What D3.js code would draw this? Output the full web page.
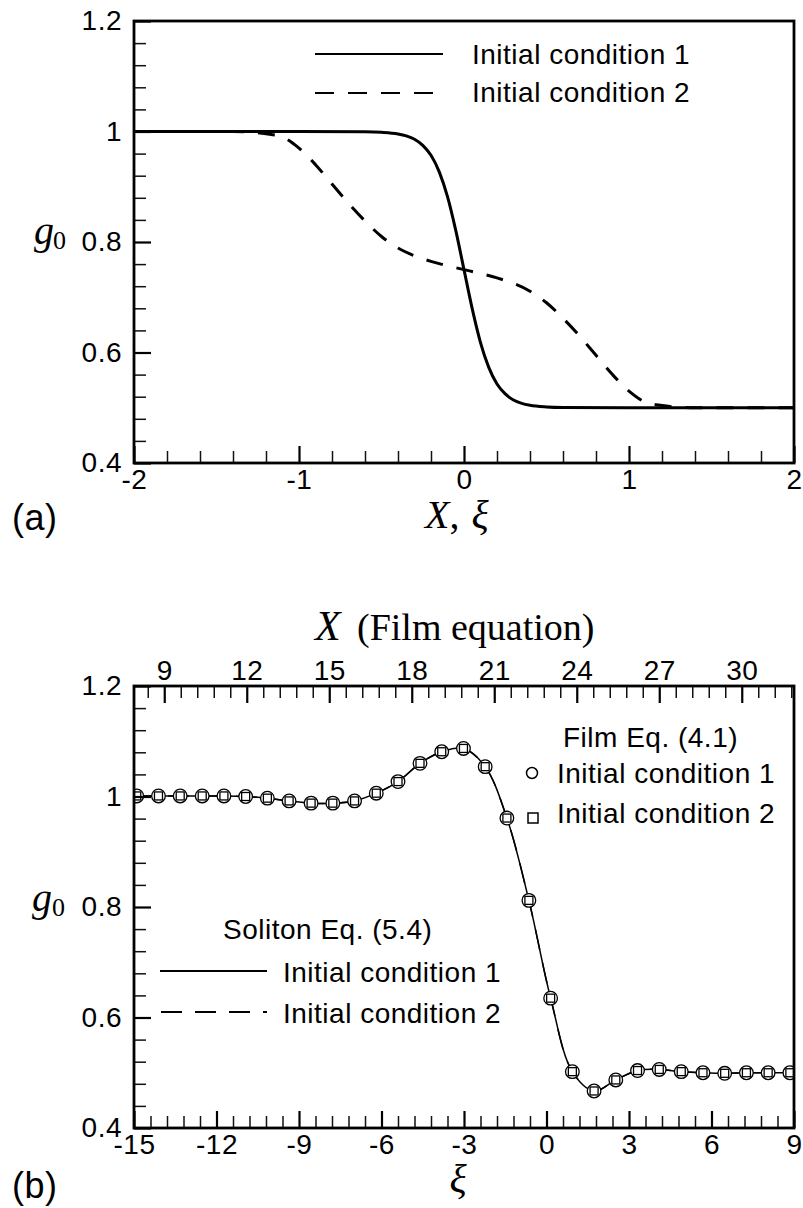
<!DOCTYPE html>
<html>
<head>
<meta charset="utf-8">
<script src="https://cdn.jsdelivr.net/npm/d3@7"></script>
<style>
  html, body { margin: 0; padding: 0; background: #fff; }
  svg { display: block; }
</style>
</head>
<body>
<svg id="fig" width="803" height="1208"></svg>
<script>
// ---------- Panel (a): initial conditions g0(X) ----------
const ic1X = [-2, -1, -0.6, -0.5, -0.4, -0.35, -0.3, -0.25, -0.2, -0.15, -0.1, -0.05, 0,
              0.05, 0.1, 0.15, 0.2, 0.25, 0.3, 0.35, 0.4, 0.5, 0.6, 1, 2];
const ic1G = [1, 1, 0.9995, 0.9985, 0.9955, 0.992, 0.986, 0.975, 0.957, 0.927, 0.882, 0.821, 0.75,
              0.679, 0.618, 0.573, 0.543, 0.525, 0.514, 0.508, 0.5045, 0.5015, 0.5005, 0.5, 0.5];

const ic2X = [-2, -1.4, -1.3, -1.2, -1.1, -1.0, -0.9, -0.8, -0.7, -0.6, -0.5, -0.4, -0.3, -0.2, -0.1, 0,
              0.1, 0.2, 0.3, 0.4, 0.5, 0.6, 0.7, 0.8, 0.9, 1.0, 1.1, 1.2, 1.3, 1.4, 2];
const ic2G = [1, 1, 0.999, 0.996, 0.99, 0.97, 0.94, 0.905, 0.87, 0.838, 0.81, 0.789, 0.775, 0.765, 0.757, 0.75,
              0.743, 0.735, 0.725, 0.711, 0.69, 0.662, 0.63, 0.595, 0.56, 0.53, 0.51, 0.504, 0.501, 0.5, 0.5];

const aXTicks = [-2, -1, 0, 1, 2];
const aXTickLabels = ["-2", "-1", "0", "1", "2"];
const gTicks = [0.4, 0.6, 0.8, 1.0, 1.2];
const gTickLabels = ["0.4", "0.6", "0.8", "1", "1.2"];
const aLegend = ["Initial condition 1", "Initial condition 2"];

// ---------- Panel (b): long-time profiles ----------
// film solution samples (markers), same xi for both initial conditions
const filmXi = [-14.90, -14.11, -13.32, -12.52, -11.73, -10.94, -10.15, -9.36, -8.56, -7.77,
                -6.98, -6.19, -5.40, -4.60, -3.81, -3.02, -2.23, -1.44, -0.64, 0.15,
                0.94, 1.73, 2.52, 3.31, 4.10, 4.90, 5.69, 6.48, 7.27, 8.06, 8.85];
const filmG1 = [1.001, 1.001, 1.001, 1.001, 1.001, 1.000, 0.997, 0.992, 0.988, 0.988,
                0.992, 1.006, 1.027, 1.060, 1.081, 1.087, 1.054, 0.961, 0.812, 0.635,
                0.502, 0.467, 0.487, 0.504, 0.506, 0.502, 0.500, 0.499, 0.500, 0.500, 0.500];
const filmG2 = [1.001, 1.001, 1.001, 1.001, 1.001, 1.000, 0.997, 0.992, 0.988, 0.988,
                0.992, 1.006, 1.027, 1.060, 1.081, 1.087, 1.054, 0.961, 0.812, 0.635,
                0.502, 0.467, 0.487, 0.504, 0.506, 0.502, 0.500, 0.499, 0.500, 0.500, 0.500];

// soliton equation solution (lines)
const solXi = [-15, -14.11, -13.32, -12.52, -11.73, -10.94, -10.15, -9.36, -8.56, -7.77,
               -6.98, -6.19, -5.40, -4.60, -3.81, -3.02, -2.23, -1.44, -0.64, 0.15,
               0.94, 1.73, 2.52, 3.31, 4.10, 4.90, 5.69, 6.48, 7.27, 8.06, 9];
const solG1 = [1.001, 1.001, 1.001, 1.001, 1.001, 1.000, 0.997, 0.992, 0.988, 0.988,
               0.992, 1.006, 1.027, 1.060, 1.081, 1.087, 1.054, 0.961, 0.812, 0.635,
               0.502, 0.467, 0.487, 0.504, 0.506, 0.502, 0.500, 0.499, 0.500, 0.500, 0.500];
const solG2 = [1.001, 1.001, 1.001, 1.001, 1.001, 1.000, 0.997, 0.992, 0.988, 0.988,
               0.992, 1.006, 1.027, 1.060, 1.081, 1.087, 1.054, 0.961, 0.812, 0.635,
               0.502, 0.467, 0.487, 0.504, 0.506, 0.502, 0.500, 0.499, 0.500, 0.500, 0.500];

const bXiTicks = [-15, -12, -9, -6, -3, 0, 3, 6, 9];
const bXiTickLabels = ["-15", "-12", "-9", "-6", "-3", "0", "3", "6", "9"];
const filmOffset = 22.9;            // X = xi + filmOffset
const bXTicks = [9, 12, 15, 18, 21, 24, 27, 30];
const bXTickLabels = ["9", "12", "15", "18", "21", "24", "27", "30"];

// ---------- layout ----------
const SANS = '"Liberation Sans", Arial, Helvetica, sans-serif';
const SERIF = '"Liberation Serif", "Times New Roman", Times, serif';
const L = 134, W = 660, H = 442;
const topA = 21, topB = 686;

const svg = d3.select("#fig");

const xA = d3.scaleLinear().domain([-2, 2]).range([L, L + W]);
const yA = d3.scaleLinear().domain([0.4, 1.2]).range([topA + H, topA]);
const xB = d3.scaleLinear().domain([-15, 9]).range([L, L + W]);
const xF = d3.scaleLinear().domain([-15 + filmOffset, 9 + filmOffset]).range([L, L + W]);
const yB = d3.scaleLinear().domain([0.4, 1.2]).range([topB + H, topB]);

function near(v, list) { return list.some(m => Math.abs(m - v) < 1e-6); }
function minorTicks(lo, hi, step, majors) {
  return d3.range(Math.round((hi - lo) / step) + 1)
    .map(i => +(lo + i * step).toFixed(6))
    .filter(v => !near(v, majors));
}

function drawAxis(axisFn, scale, majors, labels, minors, transform, pad) {
  const gMin = svg.append("g").attr("transform", transform)
    .call(axisFn(scale).tickValues(minors).tickSize(-12).tickFormat(""));
  gMin.select(".domain").remove();
  gMin.selectAll("line").attr("stroke", "#111").attr("stroke-width", 1.5);

  const gMaj = svg.append("g").attr("transform", transform)
    .call(axisFn(scale).tickValues(majors).tickSize(-17).tickPadding(pad)
      .tickFormat((d, i) => labels[i]));
  gMaj.select(".domain").remove();
  gMaj.selectAll("line").attr("stroke", "#000").attr("stroke-width", 2.2);
  gMaj.selectAll("text")
    .attr("fill", "#000")
    .attr("font-size", 28)
    .attr("letter-spacing", "0.5px")
    .style("font-family", SANS);
}

function frame(top) {
  svg.append("rect")
    .attr("x", L).attr("y", top).attr("width", W).attr("height", H)
    .attr("fill", "none").attr("stroke", "#000").attr("stroke-width", 2.8);
}

function sansText(x, y, str, size, anchor) {
  return svg.append("text")
    .attr("x", x).attr("y", y)
    .attr("text-anchor", anchor || "start")
    .attr("font-size", size)
    .attr("letter-spacing", size >= 28 ? "0.5px" : null)
    .style("font-family", SANS)
    .attr("fill", "#000")
    .text(str);
}

// clip paths for curves
const defs = svg.append("defs");
defs.append("clipPath").attr("id", "clipA")
  .append("rect").attr("x", L).attr("y", topA).attr("width", W).attr("height", H);
defs.append("clipPath").attr("id", "clipB")
  .append("rect").attr("x", L).attr("y", topB).attr("width", W).attr("height", H);

// ================= Panel (a) =================
const lineA = d3.line().x(d => xA(d[0])).y(d => yA(d[1])).curve(d3.curveMonotoneX);
const gA = svg.append("g").attr("clip-path", "url(#clipA)");
gA.append("path")
  .attr("d", lineA(ic2X.map((x, i) => [x, ic2G[i]])))
  .attr("fill", "none").attr("stroke", "#000").attr("stroke-width", 3)
  .attr("stroke-dasharray", "17,14");
gA.append("path")
  .attr("d", lineA(ic1X.map((x, i) => [x, ic1G[i]])))
  .attr("fill", "none").attr("stroke", "#000").attr("stroke-width", 3);

drawAxis(d3.axisBottom, xA, aXTicks, aXTickLabels,
  minorTicks(-2, 2, 0.2, aXTicks), `translate(0,${topA + H})`, 6);
drawAxis(d3.axisLeft, yA, gTicks, gTickLabels,
  minorTicks(0.4, 1.2, 0.04, gTicks), `translate(${L},0)`, 12);
frame(topA);

// legend (a)
svg.append("line").attr("x1", 315).attr("x2", 443).attr("y1", 54).attr("y2", 54)
  .attr("stroke", "#000").attr("stroke-width", 2);
svg.append("line").attr("x1", 315).attr("x2", 443).attr("y1", 93).attr("y2", 93)
  .attr("stroke", "#000").attr("stroke-width", 2).attr("stroke-dasharray", "19,14");
sansText(472, 64, aLegend[0], 28);
sansText(472, 102, aLegend[1], 28);

// axis titles (a)
const tA = svg.append("text").attr("x", 425).attr("y", 528)
  .attr("font-size", 40).style("font-family", SERIF).attr("fill", "#000");
tA.append("tspan").attr("font-style", "italic").text("X");
tA.append("tspan").text(",");
tA.append("tspan").attr("font-style", "italic").attr("dx", 12).text("ξ");

svg.append("text").attr("x", 34).attr("y", 244).attr("font-size", 40)
  .attr("font-style", "italic").style("font-family", SERIF).text("g");
svg.append("text").attr("x", 53).attr("y", 249).attr("font-size", 26)
  .style("font-family", SERIF).text("0");

sansText(12, 530, "(a)", 36);

// ================= Panel (b) =================
const lineB = d3.line().x(d => xB(d[0])).y(d => yB(d[1])).curve(d3.curveCatmullRom.alpha(0.5));
const gB = svg.append("g").attr("clip-path", "url(#clipB)");
gB.append("path")
  .attr("d", lineB(solXi.map((x, i) => [x, solG2[i]])))
  .attr("fill", "none").attr("stroke", "#000").attr("stroke-width", 1.5)
  .attr("stroke-dasharray", "21,13");
gB.append("path")
  .attr("d", lineB(solXi.map((x, i) => [x, solG1[i]])))
  .attr("fill", "none").attr("stroke", "#000").attr("stroke-width", 1.5);

gB.selectAll("circle.film1")
  .data(filmXi.map((x, i) => [x, filmG1[i]]))
  .join("circle").attr("class", "film1")
  .attr("cx", d => xB(d[0])).attr("cy", d => yB(d[1])).attr("r", 6.8)
  .attr("fill", "#fff").attr("stroke", "#000").attr("stroke-width", 1.3);
const sq = 8;
gB.selectAll("rect.film2")
  .data(filmXi.map((x, i) => [x, filmG2[i]]))
  .join("rect").attr("class", "film2")
  .attr("x", d => xB(d[0]) - sq / 2).attr("y", d => yB(d[1]) - sq / 2)
  .attr("width", sq).attr("height", sq)
  .attr("fill", "#fff").attr("stroke", "#000").attr("stroke-width", 1.3);

drawAxis(d3.axisBottom, xB, bXiTicks, bXiTickLabels,
  minorTicks(-15, 9, 0.6, bXiTicks), `translate(0,${topB + H})`, 6);
drawAxis(d3.axisTop, xF, bXTicks, bXTickLabels,
  minorTicks(8.4, 31.8, 0.6, bXTicks), `translate(0,${topB})`, 6);
drawAxis(d3.axisLeft, yB, gTicks, gTickLabels,
  minorTicks(0.4, 1.2, 0.04, gTicks), `translate(${L},0)`, 12);
frame(topB);

// legends (b)
sansText(563, 747, "Film Eq. (4.1)", 28);
svg.append("circle").attr("cx", 532).attr("cy", 773).attr("r", 5.5)
  .attr("fill", "#fff").attr("stroke", "#000").attr("stroke-width", 1.5);
sansText(557, 783, aLegend[0], 28);
svg.append("rect").attr("x", 528).attr("y", 813).attr("width", 10).attr("height", 10)
  .attr("fill", "#fff").attr("stroke", "#000").attr("stroke-width", 1.5);
sansText(557, 823, aLegend[1], 28);

sansText(223, 939, "Soliton Eq. (5.4)", 28);
svg.append("line").attr("x1", 160).attr("x2", 267).attr("y1", 971).attr("y2", 971)
  .attr("stroke", "#000").attr("stroke-width", 2);
sansText(283, 982, aLegend[0], 28);
svg.append("line").attr("x1", 161).attr("x2", 267).attr("y1", 1012).attr("y2", 1012)
  .attr("stroke", "#000").attr("stroke-width", 2).attr("stroke-dasharray", "21,13");
sansText(283, 1023, aLegend[1], 28);

// axis titles (b)
const tF = svg.append("g").style("font-family", SERIF).attr("fill", "#000");
tF.append("text").attr("x", 315).attr("y", 640).attr("font-size", 42)
  .attr("font-style", "italic").text("X");
tF.append("text").attr("x", 357).attr("y", 640).attr("font-size", 38)
  .text("(Film equation)");

svg.append("text").attr("x", 458).attr("y", 1192).attr("font-size", 40)
  .attr("text-anchor", "middle").attr("font-style", "italic")
  .style("font-family", SERIF).text("ξ");

svg.append("text").attr("x", 32).attr("y", 911).attr("font-size", 40)
  .attr("font-style", "italic").style("font-family", SERIF).text("g");
svg.append("text").attr("x", 52).attr("y", 916).attr("font-size", 26)
  .style("font-family", SERIF).text("0");

sansText(12, 1198, "(b)", 36);
</script>
</body>
</html>
